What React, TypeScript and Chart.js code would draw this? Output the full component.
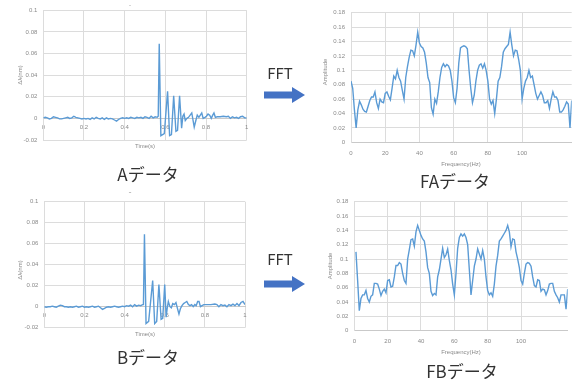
import React, { useEffect, useRef } from "react";
import { Chart, registerables } from "chart.js";
Chart.register(...registerables);

// ---- Aデータ (time domain) ----
const timeA = [
  0.0, 0.01, 0.02, 0.03, 0.04, 0.05, 0.06, 0.07, 0.08, 0.09,
  0.1, 0.11, 0.12, 0.13, 0.14, 0.15, 0.16, 0.17, 0.18, 0.19,
  0.2, 0.21, 0.22, 0.23, 0.24, 0.25, 0.26, 0.27, 0.28, 0.29,
  0.3, 0.31, 0.32, 0.33, 0.34, 0.35, 0.36, 0.37, 0.38, 0.39,
  0.4, 0.41, 0.42, 0.43, 0.44, 0.45, 0.46, 0.47, 0.48, 0.49,
  0.5, 0.51, 0.52, 0.53, 0.54, 0.55, 0.56, 0.565, 0.57, 0.578,
  0.595, 0.611, 0.621, 0.63, 0.641, 0.652, 0.66, 0.67, 0.68, 0.686,
  0.692, 0.698, 0.706, 0.714, 0.722, 0.73, 0.742, 0.75, 0.757, 0.765,
  0.772, 0.779, 0.786, 0.795, 0.802, 0.81, 0.818, 0.826, 0.833, 0.839,
  0.846, 0.855, 0.87, 0.885, 0.9, 0.91, 0.92, 0.93, 0.94, 0.95,
  0.96, 0.97, 0.98, 0.99, 1.0,
];
const dispA = [
  0.0005, 0.001, 0.0005, -0.0005, 0.0, 0.0015, 0.001, 0.0005, -0.0005, -0.0005,
  0.0, 0.0005, 0.001, 0.0, 0.0005, 0.002, 0.001, 0.0005, 0.0, -0.0005,
  0.0, -0.0005, 0.0, -0.001, 0.0005, -0.0005, 0.001, 0.0, -0.0005, 0.0005,
  -0.001, 0.0005, -0.0005, 0.0, -0.0005, -0.0015, -0.0025, -0.001, 0.0, 0.0005,
  0.0, 0.0005, 0.0, 0.001, 0.0005, 0.0, 0.001, 0.0005, 0.001, 0.0,
  0.0015, 0.001, 0.0, 0.002, 0.0005, 0.0015, 0.001, 0.002, 0.069, -0.016,
  -0.014, 0.025, -0.016, -0.015, 0.021, -0.012, -0.011, 0.021, -0.009, 0.002,
  0.004, -0.002, 0.0, 0.001, 0.003, 0.005, -0.008, -0.002, 0.003, 0.001,
  0.003, 0.005, 0.0, 0.001, 0.002, 0.004, 0.003, 0.0, 0.003, 0.005,
  0.001, 0.0015, 0.0015, 0.002, 0.0015, 0.002, 0.0, 0.0015, 0.0005, 0.001,
  0.0, 0.0015, 0.002, 0.0005, 0.0005,
];

// ---- Bデータ (time domain) ----
const timeB = [
  0.0, 0.01, 0.02, 0.03, 0.04, 0.05, 0.06, 0.07, 0.08, 0.09,
  0.1, 0.11, 0.12, 0.13, 0.14, 0.15, 0.16, 0.17, 0.18, 0.19,
  0.2, 0.21, 0.22, 0.23, 0.24, 0.25, 0.26, 0.27, 0.28, 0.29,
  0.3, 0.31, 0.32, 0.33, 0.34, 0.35, 0.36, 0.37, 0.38, 0.39,
  0.4, 0.41, 0.42, 0.43, 0.44, 0.45, 0.46, 0.47, 0.48, 0.49,
  0.494, 0.499, 0.507, 0.52, 0.54, 0.55, 0.56, 0.571, 0.582, 0.59,
  0.6, 0.607, 0.612, 0.618, 0.626, 0.633, 0.64, 0.648, 0.656, 0.664,
  0.671, 0.678, 0.686, 0.694, 0.702, 0.71, 0.718, 0.726, 0.734, 0.742,
  0.75, 0.757, 0.764, 0.771, 0.778, 0.786, 0.795, 0.81, 0.83, 0.85,
  0.86, 0.87, 0.88, 0.89, 0.9, 0.91, 0.92, 0.93, 0.94, 0.95,
  0.96, 0.97, 0.98, 0.99, 1.0,
];
const dispB = [
  0.0, -0.0005, 0.0, 0.0, 0.0005, 0.0, -0.0005, 0.0005, 0.0015, 0.001,
  0.0, 0.0, -0.0005, 0.0, -0.0005, 0.0, 0.0005, -0.0005, 0.0, 0.0005,
  -0.0005, 0.0, -0.0005, 0.0, 0.0005, -0.0005, 0.0, 0.0005, -0.001, -0.0025,
  -0.0015, -0.0005, 0.0, -0.0005, 0.0, 0.0005, 0.0, -0.0005, 0.0, 0.0005,
  0.0, 0.001, 0.0005, 0.0015, 0.0, 0.002, 0.0005, 0.0015, 0.001, 0.002,
  0.002, 0.069, -0.016, -0.014, 0.025, -0.016, -0.014, 0.021, -0.012, -0.011,
  0.021, -0.01, -0.002, 0.005, 0.0, -0.001, 0.003, 0.002, 0.004, -0.002,
  -0.007, -0.002, 0.001, 0.003, 0.004, 0.005, 0.002, 0.001, 0.002, 0.0,
  0.002, 0.001, 0.005, 0.005, 0.0, 0.001, 0.002, 0.002, 0.002, 0.0025,
  0.002, 0.0, 0.002, 0.001, 0.0015, 0.0, 0.002, 0.001, 0.0025, 0.001,
  0.003, 0.001, 0.004, 0.005, 0.002,
];

// ---- FAデータ (spectrum) ----
const freqFA = [
  0, 1, 2, 3, 4, 5, 6, 7, 8, 9, 10, 11, 12, 13, 14, 15, 16, 17, 18, 19,
  20, 21, 22, 23, 24, 25, 26, 27, 28, 29, 30, 31, 32, 33, 34, 35, 36, 37, 38, 39,
  40, 41, 42, 43, 44, 45, 46, 47, 48, 49, 50, 51, 52, 53, 54, 55, 56, 57, 58, 59,
  60, 61, 62, 63, 64, 65, 66, 67, 68, 69, 70, 71, 72, 73, 74, 75, 76, 77, 78, 79,
  80, 81, 82, 83, 84, 85, 86, 87, 88, 89, 90, 91, 92, 93, 94, 95, 96, 97, 98, 99,
  100, 101, 102, 103, 104, 105, 106, 107, 108, 109, 110, 111, 112, 113, 114, 115, 116, 117, 118, 119,
  120, 121, 122, 123, 124, 125, 126, 127, 128, 129,
];
const ampFA = [
  0.085, 0.075, 0.045, 0.02, 0.045, 0.057, 0.052, 0.046, 0.043, 0.042,
  0.05, 0.058, 0.063, 0.063, 0.07, 0.055, 0.047, 0.06, 0.056, 0.055,
  0.068, 0.07, 0.064, 0.059, 0.075, 0.092, 0.088, 0.1, 0.09, 0.085,
  0.072, 0.06, 0.09, 0.105, 0.118, 0.128, 0.127, 0.12, 0.135, 0.153,
  0.138, 0.133, 0.131, 0.125, 0.11, 0.09, 0.083, 0.048, 0.039, 0.06,
  0.054, 0.07, 0.09, 0.104, 0.109, 0.105, 0.108, 0.106, 0.1, 0.085,
  0.062, 0.055, 0.075, 0.11, 0.131, 0.133, 0.134, 0.133, 0.13, 0.1,
  0.075, 0.055, 0.065, 0.085, 0.1, 0.107, 0.109, 0.103, 0.109, 0.1,
  0.085, 0.06, 0.053, 0.058, 0.04, 0.06, 0.085, 0.09, 0.105, 0.125,
  0.13, 0.133, 0.136, 0.153, 0.135, 0.12, 0.128, 0.127, 0.115, 0.1,
  0.06, 0.075, 0.085, 0.09, 0.1, 0.09, 0.092, 0.08, 0.068, 0.06,
  0.065, 0.07, 0.065, 0.055, 0.055, 0.058, 0.047, 0.06, 0.07, 0.063,
  0.063, 0.058, 0.042, 0.042, 0.045, 0.05, 0.056, 0.053, 0.02, 0.058,
];

// ---- FBデータ (spectrum) ----
const freqFB = [
  1, 2, 3, 4, 5, 6, 7, 8, 9, 10, 11, 12, 13, 14, 15, 16, 17, 18, 19, 20,
  21, 22, 23, 24, 25, 26, 27, 28, 29, 30, 31, 32, 33, 34, 35, 36, 37, 38, 39, 40,
  41, 42, 43, 44, 45, 46, 47, 48, 49, 50, 51, 52, 53, 54, 55, 56, 57, 58, 59, 60,
  61, 62, 63, 64, 65, 66, 67, 68, 69, 70, 71, 72, 73, 74, 75, 76, 77, 78, 79, 80,
  81, 82, 83, 84, 85, 86, 87, 88, 89, 90, 91, 92, 93, 94, 95, 96, 97, 98, 99, 100,
  101, 102, 103, 104, 105, 106, 107, 108, 109, 110, 111, 112, 113, 114, 115, 116, 117, 118, 119, 120,
  121, 122, 123, 124, 125, 126, 127, 128,
];
const ampFB = [
  0.11, 0.07, 0.028, 0.045, 0.05, 0.05, 0.056, 0.045, 0.04, 0.048,
  0.05, 0.066, 0.066, 0.065, 0.058, 0.049, 0.055, 0.058, 0.053, 0.07,
  0.071, 0.061, 0.062, 0.075, 0.091, 0.091, 0.095, 0.093, 0.08, 0.07,
  0.066, 0.1, 0.113, 0.127, 0.128, 0.118, 0.138, 0.147, 0.14, 0.133,
  0.128, 0.125, 0.11, 0.088, 0.08, 0.055, 0.049, 0.052, 0.05, 0.075,
  0.085, 0.1, 0.115, 0.102, 0.106, 0.114, 0.098, 0.085, 0.065, 0.05,
  0.08, 0.115, 0.13, 0.135, 0.132, 0.135, 0.13, 0.12, 0.085, 0.05,
  0.07, 0.09, 0.1, 0.114, 0.107, 0.1, 0.112, 0.1, 0.075, 0.056,
  0.05, 0.053, 0.048, 0.065, 0.09, 0.105, 0.125, 0.128, 0.132, 0.136,
  0.14, 0.147, 0.138, 0.117, 0.128, 0.127, 0.11, 0.1, 0.088, 0.07,
  0.065, 0.08, 0.093, 0.095, 0.094, 0.09, 0.075, 0.063, 0.061, 0.071,
  0.07, 0.055, 0.058, 0.057, 0.05, 0.056, 0.065, 0.066, 0.066, 0.055,
  0.05, 0.046, 0.04, 0.05, 0.05, 0.05, 0.03, 0.058,
];

const LINE = "#5B9BD5";
const GRID = "#dcdcdc";
const TICK = "#8a8a8a";
const TICK_FONT = { family: "'Liberation Sans', Arial, sans-serif", size: 6 };

type Spec = {
  left: number; top: number; width: number; height: number;
  plot: [number, number, number, number];
  xs: number[]; ys: number[];
  xMin: number; xMax: number; xStep: number;
  yMin: number; yMax: number; yStep: number;
  xPad: number;
};

const fmt = (v: any) => String(Number(Number(v).toFixed(4)));

function LineChart({ spec }: { spec: Spec }) {
  const ref = useRef<HTMLCanvasElement>(null);
  useEffect(() => {
    const c = ref.current!;
    const [pl, pt, pr, pb] = spec.plot;
    const padTop = pt - spec.top;
    const padRight = spec.left + spec.width - pr;
    const padBottom = spec.top + spec.height - pb;
    const yW = pl - spec.left;
    const step = spec.xStep;
    const chart = new Chart(c, {
      type: "line",
      data: {
        datasets: [
          {
            data: spec.xs.map((x, i) => ({ x, y: spec.ys[i] })),
            borderColor: LINE,
            borderWidth: 1.4,
            pointRadius: 0,
            tension: 0,
            fill: false,
          },
        ],
      },
      options: {
        responsive: false,
        animation: false,
        devicePixelRatio: 1,
        layout: { padding: { left: 0, top: padTop, right: padRight, bottom: padBottom } },
        plugins: { legend: { display: false }, tooltip: { enabled: false }, title: { display: false } },
        scales: {
          x: {
            type: "linear",
            position: { y: 0 } as any,
            min: spec.xMin,
            max: spec.xMax,
            afterBuildTicks: (s: any) => {
              s.ticks = s.ticks.filter((t: any) => Math.abs(t.value / step - Math.round(t.value / step)) < 1e-6);
            },
            ticks: {
              stepSize: spec.xStep,
              font: TICK_FONT,
              color: TICK,
              padding: spec.xPad,
              maxRotation: 0,
              autoSkip: false,
              callback: (v: any) => fmt(v),
            },
            grid: { color: GRID, lineWidth: 1, drawTicks: false },
            border: { color: "#c9c9c9", width: 1 },
          },
          y: {
            type: "linear",
            position: "left",
            min: spec.yMin,
            max: spec.yMax,
            afterFit: (s: any) => {
              s.width = yW;
            },
            ticks: {
              stepSize: spec.yStep,
              font: TICK_FONT,
              color: TICK,
              padding: 6,
              autoSkip: false,
              callback: (v: any) => fmt(v),
            },
            grid: { color: GRID, lineWidth: 1, drawTicks: false },
            border: { color: GRID, width: 1 },
          },
        },
      } as any,
    });
    return () => chart.destroy();
  }, [spec]);
  return (
    <canvas
      ref={ref}
      width={spec.width}
      height={spec.height}
      style={{ position: "absolute", left: spec.left, top: spec.top, width: spec.width, height: spec.height }}
    />
  );
}

const specA: Spec = {
  left: 0, top: 0, width: 255, height: 150,
  plot: [43.3, 10.3, 246.7, 140],
  xs: timeA, ys: dispA,
  xMin: 0, xMax: 1, xStep: 0.2,
  yMin: -0.02, yMax: 0.1, yStep: 0.02,
  xPad: 5,
};
const specB: Spec = {
  left: 0, top: 190, width: 255, height: 150,
  plot: [44.3, 201.7, 245, 327.7],
  xs: timeB, ys: dispB,
  xMin: 0, xMax: 1, xStep: 0.2,
  yMin: -0.02, yMax: 0.1, yStep: 0.02,
  xPad: 5,
};
const specFA: Spec = {
  left: 300, top: 0, width: 274, height: 160,
  plot: [351, 12.7, 571.7, 142.3],
  xs: freqFA, ys: ampFA,
  xMin: 0, xMax: 129, xStep: 20,
  yMin: 0, yMax: 0.18, yStep: 0.02,
  xPad: 7,
};
const specFB: Spec = {
  left: 300, top: 190, width: 274, height: 165,
  plot: [354.3, 201.7, 567.7, 330.7],
  xs: freqFB, ys: ampFB,
  xMin: 0, xMax: 128, xStep: 20,
  yMin: 0, yMax: 0.18, yStep: 0.02,
  xPad: 7,
};

function Txt({ x, y, text, size, color, rotate, family }: { x: number; y: number; text: string; size: number; color: string; rotate?: boolean; family?: string }) {
  return (
    <div
      style={{
        position: "absolute",
        left: x,
        top: y,
        transform: `translate(-50%, -50%)${rotate ? " rotate(-90deg)" : ""}`,
        whiteSpace: "nowrap",
        fontSize: size,
        lineHeight: 1,
        color,
        fontFamily: family || "'Liberation Sans', Arial, sans-serif",
      }}
    >
      {text}
    </div>
  );
}

function Arrow({ x1, x2, y }: { x1: number; x2: number; y: number }) {
  const head = 13;
  const sh = 3.5;
  const hh = 8;
  const pts = [
    [x1, y - sh], [x2 - head, y - sh], [x2 - head, y - hh], [x2, y],
    [x2 - head, y + hh], [x2 - head, y + sh], [x1, y + sh],
  ].map((p) => p.join(",")).join(" ");
  return (
    <svg style={{ position: "absolute", left: 0, top: 0 }} width={574} height={380}>
      <polygon points={pts} fill="#4472C4" />
    </svg>
  );
}

const JP = "'Noto Sans CJK JP', 'Noto Sans', sans-serif";

export default function App() {
  return (
    <div style={{ position: "absolute", left: 0, top: 0, width: 574, height: 380, background: "#fff", overflow: "hidden" }}>
      <LineChart spec={specA} />
      <LineChart spec={specFA} />
      <LineChart spec={specB} />
      <LineChart spec={specFB} />
      <Arrow x1={264} x2={305} y={95} />
      <Arrow x1={264} x2={305} y={284} />

      <Txt x={130} y={5} text="-" size={6} color="#999" />
      <Txt x={130} y={195} text="ˇ" size={8} color="#999" />

      <Txt x={20} y={75} text="Δλ(nm)" size={6} color={TICK} rotate />
      <Txt x={145} y={146} text="Time(s)" size={6} color={TICK} />
      <Txt x={20} y={270} text="Δλ(nm)" size={6} color={TICK} rotate />
      <Txt x={145} y={334} text="Time(s)" size={6} color={TICK} />

      <Txt x={325} y={72} text="Amplitude" size={6} color={TICK} rotate />
      <Txt x={461} y={164} text="Frequency(Hz)" size={6} color={TICK} />
      <Txt x={330} y={266} text="Amplitude" size={6} color={TICK} rotate />
      <Txt x={461} y={352} text="Frequency(Hz)" size={6} color={TICK} />

      <Txt x={148} y={173} text="Aデータ" size={17} color="#333" family={JP} />
      <Txt x={455} y={180} text="FAデータ" size={17} color="#333" family={JP} />
      <Txt x={148} y={356} text="Bデータ" size={17} color="#333" family={JP} />
      <Txt x={462} y={370} text="FBデータ" size={17} color="#333" family={JP} />

      <Txt x={280} y={72} text="FFT" size={15} color="#333" family={JP} />
      <Txt x={280} y={258} text="FFT" size={15} color="#333" family={JP} />
    </div>
  );
}
